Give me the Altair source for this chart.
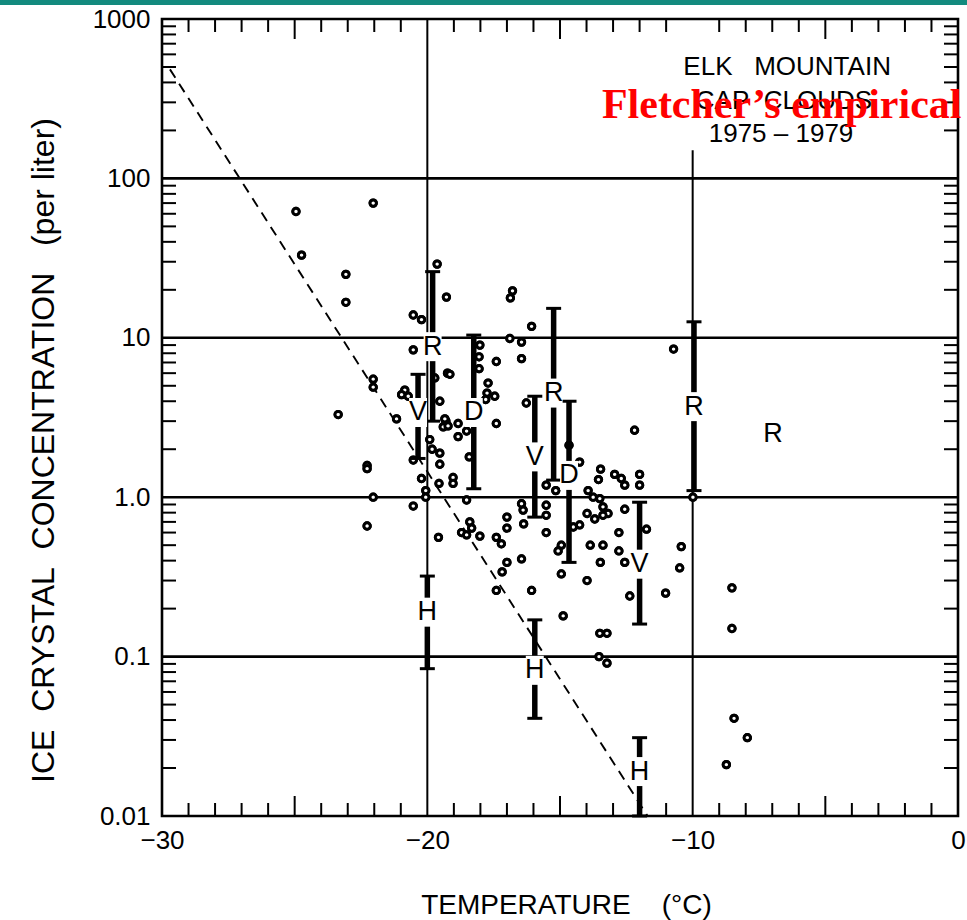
import altair as alt
import pandas as pd

# ---------------- data ----------------
pt_temp = [-24.95, -22.04, -24.74, -23.07, -23.07, -19.63, -19.28, -20.53, -20.22, -20.53,
           -19.24, -22.04, -22.04, -19.72, -23.36, -20.85, -20.97, -20.72, -19.53, -20.44,
           -21.16, -19.30, -19.91, -19.82, -19.53, -19.40, -20.53, -19.53, -22.27, -22.27,
           -20.22, -19.56, -20.06, -22.04, -20.06, -20.53, -22.27, -19.58,
           -16.79, -16.87, -16.07, -18.02, -16.89, -16.45, -18.05, -18.05, -17.40, -16.45,
           -19.15, -17.71, -17.75, -17.46, -17.80, -16.27, -19.34, -19.22, -18.84, -18.84,
           -18.52, -17.40, -18.42, -19.03, -19.03, -18.52, -15.52, -15.16, -14.26, -14.66,
           -13.47, -13.55, -12.94, -12.69, -12.56, -12.00, -12.00, -12.19, -10.72, -9.99,
           -16.45, -16.39, -15.52, -15.52, -16.37, -17.00, -17.00, -18.40, -18.33, -18.71,
           -18.52, -18.02, -17.40, -17.21, -15.52, -14.95, -14.50, -14.26, -13.94, -13.75,
           -13.50, -13.98, -13.69, -13.38, -13.19, -13.38, -12.56, -12.78, -11.74, -13.86,
           -13.38, -10.43, -15.07, -12.78, -13.48, -12.56, -10.49, -14.95, -13.98, -12.37,
           -11.02, -14.88, -13.50, -13.23, -13.53, -13.23, -8.52, -8.52, -8.44, -7.94,
           -8.73, -17.00, -16.45, -17.18, -17.40, -16.07]
pt_conc = [62, 70, 33, 25, 16.7, 29, 18, 13.9, 13, 8.4,
           6.0, 5.5, 4.9, 5.6, 3.3, 4.7, 4.4, 4.3, 4.0, 3.7,
           3.1, 3.0, 2.3, 2.0, 1.89, 2.76, 1.71, 1.61, 1.58, 1.51,
           1.31, 1.22, 1.10, 1.0, 1.0, 0.88, 0.66, 0.56,
           19.7, 17.8, 11.8, 9.0, 9.9, 9.4, 7.6, 6.4, 7.1, 7.4,
           5.9, 5.2, 4.5, 4.3, 4.1, 3.9, 3.1, 2.8, 2.9, 2.4,
           2.6, 2.9, 1.79, 1.33, 1.22, 0.96, 1.19, 1.10, 1.66, 2.12,
           1.50, 1.29, 1.39, 1.31, 1.19, 1.39, 1.19, 2.63, 8.5, 1.0,
           0.91, 0.83, 0.89, 0.77, 0.68, 0.75, 0.64, 0.70, 0.64, 0.60,
           0.58, 0.57, 0.56, 0.51, 0.60, 0.50, 0.65, 0.67, 1.10, 1.0,
           0.98, 0.79, 0.73, 0.87, 0.79, 0.77, 0.84, 0.60, 0.63, 0.50,
           0.50, 0.49, 0.46, 0.46, 0.39, 0.39, 0.36, 0.33, 0.30, 0.24,
           0.25, 0.18, 0.14, 0.14, 0.10, 0.091, 0.27, 0.15, 0.041, 0.031,
           0.021, 0.39, 0.41, 0.34, 0.26, 0.26]

bar_label = ["R", "V", "H", "D", "V", "R", "D", "V", "R", "H", "H"]
bar_temp = [-19.8, -20.35, -20.0, -18.25, -15.95, -15.24, -14.66, -12.0, -9.95, -15.95, -12.0]
bar_top = [26, 5.9, 0.32, 10.4, 4.3, 15.3, 4.0, 0.93, 12.6, 0.17, 0.031]
bar_mid = [8.8, 3.4, 0.19, 3.4, 1.79, 4.5, 1.37, 0.38, 3.7, 0.082, 0.019]
bar_bottom = [3.0, 1.75, 0.084, 1.13, 0.75, 1.28, 0.39, 0.16, 1.10, 0.041, 0.01]

lone_label = ["R"]
lone_temp = [-6.97]
lone_conc = [2.5]

fletcher_temp = [-29.7, -11.7]
fletcher_conc = [483, 0.01]

hgrid_conc = [100, 10, 1, 0.1]
vgrid_temp = [-20, -10]
vgrid_top = [1000, 150]
vgrid_bottom = [0.01, 0.01]

xtick_minor = [t for t in range(-29, 0) if t % 5 != 0]
xtick_mid = [-25, -15, -5]
ytick_minor = [k * 10.0 ** e for e in range(-2, 3) for k in range(2, 10)]

note_text = ["ELK\u00a0\u00a0\u00a0MOUNTAIN", "CAP\u00a0\u00a0CLOUDS", "1975 \u2013 1979"]
note_temp = [-6.44, -6.56, -6.67]
note_conc = [500, 306, 190]

red_text = ["Fletcher\u2019s empirical"]
red_temp = [-13.42]
red_conc = [239]

# ---------------- layout ----------------
W, H = 796, 797
FONT = "Liberation Sans"

xs = alt.Scale(domain=[-30, 0], nice=False, zero=False)
ys = alt.Scale(type="log", domain=[0.01, 1000], nice=False)

pts = pd.DataFrame({"T": pt_temp, "N": pt_conc})
bars = pd.DataFrame({"L": bar_label, "T": bar_temp, "top": bar_top, "mid": bar_mid, "bot": bar_bottom})
lone = pd.DataFrame({"L": lone_label, "T": lone_temp, "N": lone_conc})
fl = pd.DataFrame({"T": fletcher_temp, "N": fletcher_conc})
hg = pd.DataFrame({"N": hgrid_conc})
vg = pd.DataFrame({"T": vgrid_temp, "top": vgrid_top, "bot": vgrid_bottom})
xmin = pd.DataFrame({"T": xtick_minor})
xmid = pd.DataFrame({"T": xtick_mid})
ymin = pd.DataFrame({"N": ytick_minor})
notes = pd.DataFrame({"txt": note_text, "T": note_temp, "N": note_conc})
red = pd.DataFrame({"txt": red_text, "T": red_temp, "N": red_conc})

ylab = ("datum.value == 1000 ? '1000' : datum.value == 100 ? '100' : datum.value == 10 ? '10' : "
        "datum.value == 1 ? '1.0' : datum.value == 0.1 ? '0.1' : '0.01'")

x_axis = alt.X("T:Q", scale=xs, axis=alt.Axis(
    values=[-30, -20, -10, 0], title="TEMPERATURE\u00a0\u00a0\u00a0\u00a0(\u00b0C)",
    ticks=False, domain=False, grid=False, labelFlush=False, labelFont=FONT,
    labelFontSize=26, labelColor="black", labelPadding=11, titleFont=FONT,
    titleFontSize=28, titleFontWeight="normal", titleColor="black", titleX=404,
    titleY=89, titleAlign="center", titleBaseline="middle"))
y_axis = alt.Y("N:Q", scale=ys, axis=alt.Axis(
    values=[0.01, 0.1, 1, 10, 100, 1000], labelExpr=ylab,
    title="ICE\u00a0\u00a0CRYSTAL\u00a0\u00a0CONCENTRATION\u00a0\u00a0\u00a0(per liter)",
    ticks=False, domain=False, grid=False, labelFlush=False, labelFont=FONT,
    labelFontSize=26, labelColor="black", labelPadding=12, titleFont=FONT,
    titleFontSize=32, titleFontWeight="normal", titleColor="black", titleX=-119,
    titleY=431, titleAngle=270, titleAlign="center", titleBaseline="middle"))

base_pts = alt.Chart(pts).mark_circle(fill="white", stroke="black", strokeWidth=3,
                                      size=40, opacity=1).encode(x=x_axis, y=y_axis)

strip = alt.Chart(pd.DataFrame({"a": [0]})).mark_rect(color="#138a7e").encode(
    x=alt.value(-162), x2=alt.value(W + 9), y=alt.value(-19), y2=alt.value(-14))

hgrid = alt.Chart(hg).mark_rule(color="black", strokeWidth=2.6).encode(
    y=alt.Y("N:Q", scale=ys), x=alt.value(0), x2=alt.value(W))
vgrid = alt.Chart(vg).mark_rule(color="black", strokeWidth=2).encode(
    x=alt.X("T:Q", scale=xs), y=alt.Y("top:Q", scale=ys), y2="bot:Q")

tick_style = dict(color="black", strokeWidth=2)
xt_bot = alt.Chart(xmin).mark_rule(**tick_style).encode(
    x=alt.X("T:Q", scale=xs), y=alt.value(H), y2=alt.value(H - 13))
xt_top = alt.Chart(xmin).mark_rule(**tick_style).encode(
    x=alt.X("T:Q", scale=xs), y=alt.value(0), y2=alt.value(13))
xm_bot = alt.Chart(xmid).mark_rule(**tick_style).encode(
    x=alt.X("T:Q", scale=xs), y=alt.value(H), y2=alt.value(H - 20))
xm_top = alt.Chart(xmid).mark_rule(**tick_style).encode(
    x=alt.X("T:Q", scale=xs), y=alt.value(0), y2=alt.value(20))
yt_left = alt.Chart(ymin).mark_rule(**tick_style).encode(
    y=alt.Y("N:Q", scale=ys), x=alt.value(0), x2=alt.value(14))
yt_right = alt.Chart(ymin).mark_rule(**tick_style).encode(
    y=alt.Y("N:Q", scale=ys), x=alt.value(W - 14), x2=alt.value(W))

fline = alt.Chart(fl).mark_line(color="black", strokeWidth=1.9, strokeDash=[10, 7]).encode(
    x=alt.X("T:Q", scale=xs), y=alt.Y("N:Q", scale=ys))

bar_rules = alt.Chart(bars).mark_rule(color="black", strokeWidth=5.5).encode(
    x=alt.X("T:Q", scale=xs), y=alt.Y("top:Q", scale=ys), y2="bot:Q")
cap_top = alt.Chart(bars).mark_tick(orient="horizontal", color="black", thickness=3,
                                    size=15, opacity=1).encode(
    x=alt.X("T:Q", scale=xs), y=alt.Y("top:Q", scale=ys))
cap_bot = alt.Chart(bars).mark_tick(orient="horizontal", color="black", thickness=3,
                                    size=15, opacity=1).encode(
    x=alt.X("T:Q", scale=xs), y=alt.Y("bot:Q", scale=ys))
gap = alt.Chart(bars).mark_point(shape="M-0.62,-1L0.62,-1L0.62,1L-0.62,1Z", filled=True,
                                 fill="white", size=841, opacity=1).encode(
    x=alt.X("T:Q", scale=xs), y=alt.Y("mid:Q", scale=ys))
letters = alt.Chart(bars).mark_text(font=FONT, fontSize=27, color="black",
                                    baseline="middle", align="center").encode(
    x=alt.X("T:Q", scale=xs), y=alt.Y("mid:Q", scale=ys), text="L:N")
lone_txt = alt.Chart(lone).mark_text(font=FONT, fontSize=27, color="black",
                                     baseline="middle", align="center").encode(
    x=alt.X("T:Q", scale=xs), y=alt.Y("N:Q", scale=ys), text="L:N")

note_txt = alt.Chart(notes).mark_text(font=FONT, fontSize=26, color="black",
                                      baseline="middle", align="center").encode(
    x=alt.X("T:Q", scale=xs), y=alt.Y("N:Q", scale=ys), text="txt:N")
red_txt = alt.Chart(red).mark_text(font="Liberation Serif", fontSize=42, fontWeight="bold",
                                   color="#ff0000", baseline="alphabetic", align="left").encode(
    x=alt.X("T:Q", scale=xs), y=alt.Y("N:Q", scale=ys), text="txt:N")

chart = alt.layer(
    base_pts, strip, hgrid, vgrid, xt_bot, xt_top, xm_bot, xm_top, yt_left, yt_right,
    fline, base_pts, bar_rules, cap_top, cap_bot, gap, letters, lone_txt, note_txt, red_txt
).properties(
    width=W, height=H,
    autosize=alt.AutoSizeParams(type="none"),
    padding={"left": 162, "top": 19, "right": 9, "bottom": 104},
    background="white",
).configure_view(stroke="black", strokeWidth=2.6)

chart.save("out.html", embed_options={"renderer": "svg", "actions": False})
